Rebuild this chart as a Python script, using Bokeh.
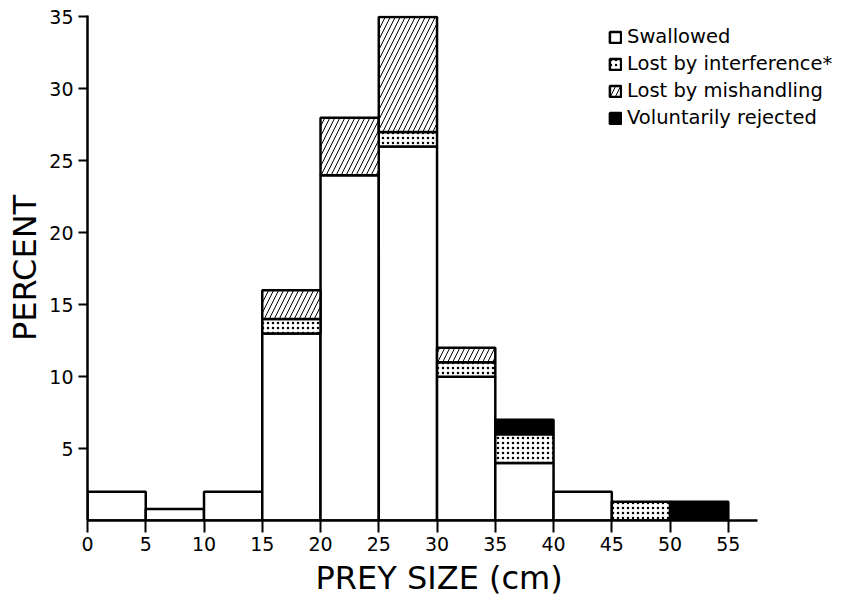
import numpy as np
from bokeh.plotting import figure
from bokeh.models import Range1d, FixedTicker, Legend, LegendItem, ColumnDataSource, Title
from bokeh.embed import file_html
from bokeh.resources import INLINE

# ---- data (percent of strikes per prey-size class, cm) ----
bin_left = [0, 5, 10, 15, 20, 25, 30, 35, 40, 45, 50]
bin_width = 5
swallowed = [2.0, 0.8, 2.0, 13.0, 24.0, 26.0, 10.0, 4.0, 2.0, 0.0, 0.0]
lost_interference = [0.0, 0.0, 0.0, 1.0, 0.0, 1.0, 1.0, 2.0, 0.0, 1.3, 0.0]
lost_mishandling = [0.0, 0.0, 0.0, 2.0, 4.0, 8.0, 1.0, 0.0, 0.0, 0.0, 0.0]
voluntarily_rejected = [0.0, 0.0, 0.0, 0.0, 0.0, 0.0, 0.0, 1.0, 0.0, 0.0, 1.3]

series_names = ["Swallowed", "Lost by interference*", "Lost by mishandling",
                "Voluntarily rejected"]
x_ticks = [0, 5, 10, 15, 20, 25, 30, 35, 40, 45, 50, 55]
y_ticks = [5, 10, 15, 20, 25, 30, 35]
x_axis_end = 57.5

FONT = "DejaVu Sans"

p = figure(width=842, height=603, output_backend="svg", toolbar_location=None,
           x_range=Range1d(0, 64.8), y_range=Range1d(0, 35.1),
           min_border_left=87, min_border_right=0, min_border_top=15,
           min_border_bottom=83)
p.outline_line_color = None
p.xgrid.visible = False
p.ygrid.visible = False
p.background_fill_color = "white"
p.border_fill_color = "white"

left = np.array(bin_left, dtype=float)
right = left + bin_width
values = [np.array(v, dtype=float) for v in
          (swallowed, lost_interference, lost_mishandling, voluntarily_rejected)]

styles = [
    dict(fill_color="white"),
    dict(fill_color="white", hatch_pattern="dot", hatch_scale=5, hatch_color="black",
         hatch_weight=1),
    dict(fill_color="white", hatch_pattern="/", hatch_scale=10, hatch_color="black",
         hatch_weight=1),
    dict(fill_color="black"),
]

renderers = []
base = np.zeros_like(left)
for vals, st in zip(values, styles):
    mask = vals > 0
    src = ColumnDataSource(dict(left=left[mask], right=right[mask],
                                bottom=base[mask], top=(base + vals)[mask]))
    r = p.quad(left="left", right="right", bottom="bottom", top="top", source=src,
               line_color="black", line_width=2.5, **st)
    renderers.append(r)
    base = base + vals

legend = Legend(items=[LegendItem(label=n, renderers=[r]) for n, r in zip(series_names, renderers)],
                location=(521, 391))
legend.background_fill_alpha = 0
legend.border_line_alpha = 0
legend.padding = 0
legend.margin = 0
legend.spacing = 4
legend.label_height = 22
legend.glyph_height = 14
legend.glyph_width = 14
legend.label_standoff = 5
legend.label_text_font = FONT
legend.label_text_font_size = "19.5px"
legend.label_text_color = "black"
p.add_layout(legend)

for ax in (p.xaxis[0], p.yaxis[0]):
    ax.axis_line_width = 2.5
    ax.axis_line_color = "black"
    ax.major_tick_line_width = 2
    ax.major_tick_line_color = "black"
    ax.major_tick_in = 0
    ax.minor_tick_line_color = None
    ax.major_label_text_font = FONT
    ax.major_label_text_font_size = "19px"
    ax.major_label_text_color = "black"
    ax.axis_label_text_font = FONT
    ax.axis_label_text_font_size = "32px"
    ax.axis_label_text_font_style = "normal"
    ax.axis_label_text_color = "black"

p.xaxis.bounds = (0, x_axis_end)
p.xaxis.ticker = FixedTicker(ticks=x_ticks)
p.yaxis.ticker = FixedTicker(ticks=y_ticks)
p.xaxis.major_tick_out = 12
p.yaxis.major_tick_out = 9
p.xaxis.major_label_standoff = 4
p.yaxis.major_label_standoff = 5
p.yaxis.axis_label = "PERCENT"
p.yaxis.axis_label_standoff = 2

xlabel = Title(text="PREY SIZE (cm)", align="left", offset=228, standoff=6,
               text_font=FONT, text_font_size="32px", text_font_style="normal",
               text_color="black")
p.add_layout(xlabel, "below")

open("out.html", "w").write(file_html(p, INLINE))
